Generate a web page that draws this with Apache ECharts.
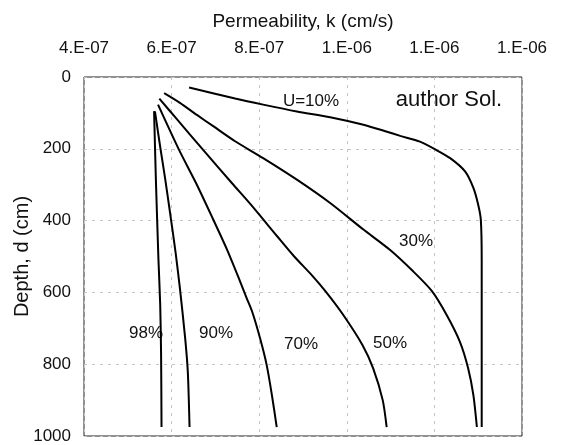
<!DOCTYPE html>
<html>
<head>
<meta charset="utf-8">
<script src="https://cdn.jsdelivr.net/npm/echarts@6/dist/echarts.min.js"></script>
<style>
html,body{margin:0;padding:0;background:#fff;}
#chart{width:563px;height:445px;}
</style>
</head>
<body>
<div id="chart"></div>
<script>
// Tick labels (as printed on the original chart)
const xTickLabels = ['4.E-07', '6.E-07', '8.E-07', '1.E-06', '1.E-06', '1.E-06'];
const yTickValues = [0, 200, 400, 600, 800, 1000];

// Series: permeability k (cm/s) vs depth d (cm), per degree of consolidation U
const u10Depth = [29, 60, 77, 96, 112, 133, 151, 164, 180, 201, 226, 263, 309, 356, 398, 509, 975];
const u10K = [6.40e-7, 7.45e-7, 8.09e-7, 8.86e-7, 9.62e-7, 10.38e-7, 10.88e-7, 11.22e-7, 11.67e-7, 12.01e-7, 12.36e-7, 12.70e-7, 12.89e-7, 13.00e-7, 13.06e-7, 13.08e-7, 13.08e-7];

const u30Depth = [45, 72, 105, 137, 179, 226, 286, 351, 425, 482, 542, 596, 663, 737, 811, 886, 975];
const u30K = [5.83e-7, 6.19e-7, 6.57e-7, 6.95e-7, 7.45e-7, 8.09e-7, 8.86e-7, 9.62e-7, 10.38e-7, 10.99e-7, 11.52e-7, 11.94e-7, 12.28e-7, 12.58e-7, 12.77e-7, 12.89e-7, 12.97e-7];

const u50Depth = [60, 119, 203, 296, 357, 445, 500, 552, 598, 663, 747, 811, 900, 975];
const u50K = [5.72e-7, 6.13e-7, 6.72e-7, 7.38e-7, 7.82e-7, 8.42e-7, 8.80e-7, 9.20e-7, 9.52e-7, 9.92e-7, 10.36e-7, 10.60e-7, 10.82e-7, 10.91e-7];

const u70Depth = [77, 203, 296, 389, 482, 556, 612, 654, 728, 802, 886, 975];
const u70K = [5.69e-7, 6.17e-7, 6.56e-7, 6.92e-7, 7.27e-7, 7.52e-7, 7.70e-7, 7.84e-7, 8.02e-7, 8.17e-7, 8.29e-7, 8.40e-7];

const u90Depth = [96, 195, 281, 374, 488, 589, 728, 821, 975];
const u90K = [5.62e-7, 5.74e-7, 5.85e-7, 5.96e-7, 6.09e-7, 6.19e-7, 6.31e-7, 6.37e-7, 6.41e-7];

const u98Depth = [95, 281, 509, 635, 774, 975];
const u98K = [5.60e-7, 5.64e-7, 5.70e-7, 5.74e-7, 5.76e-7, 5.77e-7];

const seriesNames = ['U=10%', '30%', '50%', '70%', '90%', '98%'];
const seriesK = [u10K, u30K, u50K, u70K, u90K, u98K];
const seriesDepth = [u10Depth, u30Depth, u50Depth, u70Depth, u90Depth, u98Depth];

const FONT = 'Liberation Sans, Arial, sans-serif';
const chart = echarts.init(document.getElementById('chart'), null, {renderer: 'canvas'});

const series = seriesNames.map((name, i) => ({
  name: name,
  type: 'line',
  data: seriesK[i].map((k, j) => [k, seriesDepth[i][j]]),
  showSymbol: false,
  smooth: 0.25,
  lineStyle: {color: '#000', width: 2},
  silent: true
}));

chart.setOption({
  animation: false,
  backgroundColor: '#fff',
  grid: {left: 84, right: 41, top: 77, bottom: 9, show: true, borderColor: '#222', borderWidth: 1,
         containLabel: false, outerBoundsMode: 'none'},
  xAxis: {
    type: 'value',
    position: 'top',
    min: 4e-7, max: 1.4e-6, interval: 2e-7,
    name: 'Permeability, k (cm/s)',
    nameLocation: 'middle',
    nameGap: 46,
    nameMoveOverlap: false,
    nameTextStyle: {fontFamily: FONT, fontSize: 19, color: '#111'},
    axisLine: {show: false},
    axisTick: {show: false},
    axisLabel: {
      fontFamily: FONT, fontSize: 17, color: '#111', margin: 20,
      formatter: v => xTickLabels[Math.round((v - 4e-7) / 2e-7)]
    },
    splitLine: {show: true, lineStyle: {color: '#c4c4c4', type: [3, 5], width: 1}}
  },
  yAxis: {
    type: 'value',
    inverse: true,
    min: yTickValues[0], max: yTickValues[yTickValues.length - 1], interval: 200,
    name: 'Depth, d (cm)',
    nameLocation: 'middle',
    nameGap: 52,
    nameRotate: 90,
    nameMoveOverlap: false,
    nameTextStyle: {fontFamily: FONT, fontSize: 20, color: '#111'},
    axisLine: {show: false},
    axisTick: {show: false},
    axisLabel: {fontFamily: FONT, fontSize: 17, color: '#111', margin: 13, formatter: v => String(v)},
    splitLine: {show: true, lineStyle: {color: '#c4c4c4', type: [3, 5], width: 1}}
  },
  graphic: [
    {type: 'text', x: 311, y: 101, style: {text: 'U=10%', font: '17px ' + FONT, fill: '#111', textAlign: 'center', textVerticalAlign: 'middle'}},
    {type: 'text', x: 449, y: 100, style: {text: 'author Sol.', font: '22px ' + FONT, fill: '#111', textAlign: 'center', textVerticalAlign: 'middle'}},
    {type: 'text', x: 416, y: 241, style: {text: '30%', font: '17px ' + FONT, fill: '#111', textAlign: 'center', textVerticalAlign: 'middle'}},
    {type: 'text', x: 146, y: 333, style: {text: '98%', font: '17px ' + FONT, fill: '#111', textAlign: 'center', textVerticalAlign: 'middle'}},
    {type: 'text', x: 216, y: 333, style: {text: '90%', font: '17px ' + FONT, fill: '#111', textAlign: 'center', textVerticalAlign: 'middle'}},
    {type: 'text', x: 301, y: 344, style: {text: '70%', font: '17px ' + FONT, fill: '#111', textAlign: 'center', textVerticalAlign: 'middle'}},
    {type: 'text', x: 390, y: 343, style: {text: '50%', font: '17px ' + FONT, fill: '#111', textAlign: 'center', textVerticalAlign: 'middle'}}
  ],
  series: series
});
</script>
</body>
</html>
